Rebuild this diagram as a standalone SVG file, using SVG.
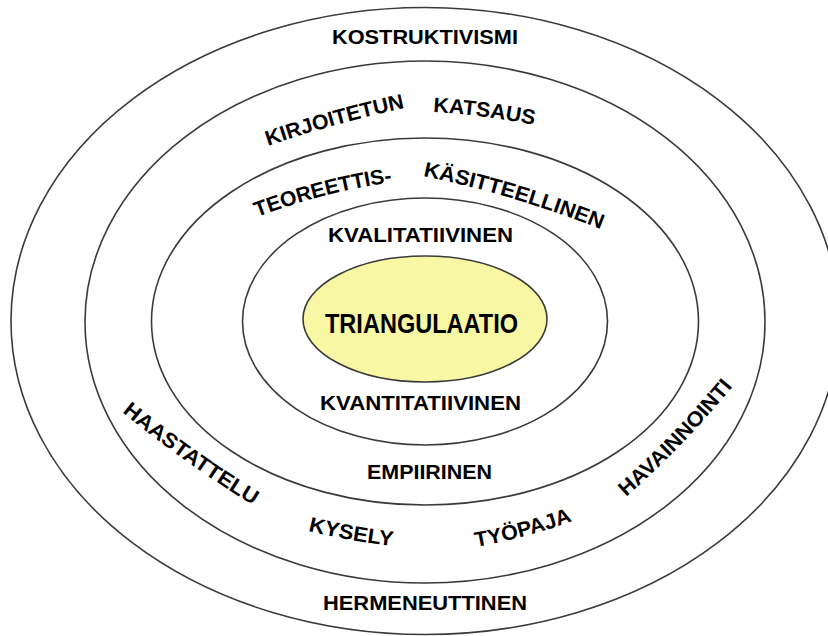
<svg xmlns="http://www.w3.org/2000/svg" xmlns:xlink="http://www.w3.org/1999/xlink" width="828" height="636" viewBox="0 0 828 636">
  <style>
    .ring { fill: none; stroke: #3a3a3a; stroke-width: 1.6; }
    .core { fill: #f8f8a4; stroke: #3a3a3a; stroke-width: 1.6; }
    .lbl { font-family: "Liberation Sans", Arial, sans-serif; font-weight: bold; font-size: 21px; fill: #000; }
    .big { font-size: 27px; }
  </style>
  <defs>
    <!-- baselines for the labels that follow the rings -->
    <path id="p-kir" d="M268,146 Q335,123 405,108"/>
    <path id="p-kat" d="M433,112 Q484,115 534,125"/>
    <path id="p-teo" d="M257,217 Q323,192 393,182"/>
    <path id="p-kas" d="M423,176 Q512,194 600,229"/>
    <path id="p-haa" d="M122,412 Q184,463 253,505"/>
    <path id="p-kys" d="M308,531 Q350,541 393,546"/>
    <path id="p-tyo" d="M476,547 Q526,538 573,521"/>
    <path id="p-hav" d="M626,497 Q684,446 733,386"/>
  </defs>

  <g id="ring-hermeneuttinen">
    <ellipse class="ring" cx="425" cy="321" rx="414" ry="313.5"/>
    <text class="lbl" x="425" y="44" text-anchor="middle" textLength="186" lengthAdjust="spacingAndGlyphs">KOSTRUKTIVISMI</text>
    <text class="lbl" x="425" y="610" text-anchor="middle" textLength="204" lengthAdjust="spacingAndGlyphs">HERMENEUTTINEN</text>
  </g>

  <g id="ring-kirjallisuus">
    <ellipse class="ring" cx="425" cy="322" rx="340" ry="261"/>
    <text class="lbl"><textPath xlink:href="#p-kir" textLength="142" lengthAdjust="spacingAndGlyphs">KIRJOITETUN</textPath></text>
    <text class="lbl"><textPath xlink:href="#p-kat" textLength="102" lengthAdjust="spacingAndGlyphs">KATSAUS</textPath></text>
    <text class="lbl"><textPath xlink:href="#p-haa" textLength="161" lengthAdjust="spacingAndGlyphs">HAASTATTELU</textPath></text>
    <text class="lbl"><textPath xlink:href="#p-kys" textLength="86" lengthAdjust="spacingAndGlyphs">KYSELY</textPath></text>
    <text class="lbl"><textPath xlink:href="#p-tyo" textLength="100" lengthAdjust="spacingAndGlyphs">TYÖPAJA</textPath></text>
    <text class="lbl"><textPath xlink:href="#p-hav" textLength="154" lengthAdjust="spacingAndGlyphs">HAVAINNOINTI</textPath></text>
  </g>

  <g id="ring-teoreettinen">
    <ellipse class="ring" cx="425" cy="321.5" rx="273.5" ry="183.5"/>
    <text class="lbl"><textPath xlink:href="#p-teo" textLength="140" lengthAdjust="spacingAndGlyphs">TEOREETTIS-</textPath></text>
    <text class="lbl"><textPath xlink:href="#p-kas" textLength="186" lengthAdjust="spacingAndGlyphs">KÄSITTEELLINEN</textPath></text>
    <text class="lbl" x="429.5" y="479" text-anchor="middle" textLength="125" lengthAdjust="spacingAndGlyphs">EMPIIRINEN</text>
  </g>

  <g id="ring-menetelmat">
    <ellipse class="ring" cx="425" cy="321.5" rx="182.5" ry="123.5"/>
    <text class="lbl" x="420.5" y="242" text-anchor="middle" textLength="185" lengthAdjust="spacingAndGlyphs">KVALITATIIVINEN</text>
    <text class="lbl" x="420.5" y="410" text-anchor="middle" textLength="201" lengthAdjust="spacingAndGlyphs">KVANTITATIIVINEN</text>
  </g>

  <g id="triangulaatio">
    <ellipse class="core" cx="425" cy="319" rx="122" ry="63"/>
    <text class="lbl big" x="421.5" y="333" text-anchor="middle" textLength="193" lengthAdjust="spacingAndGlyphs">TRIANGULAATIO</text>
  </g>
</svg>
